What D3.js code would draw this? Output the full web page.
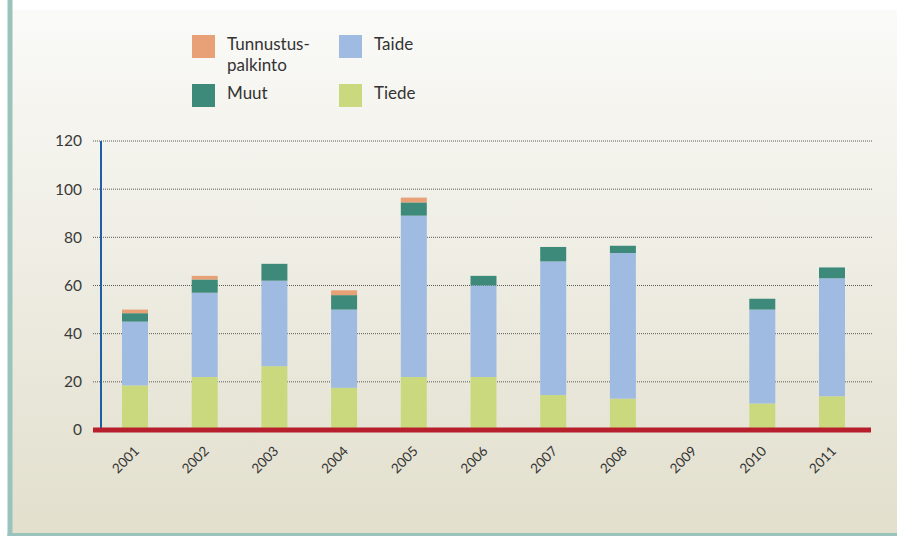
<!DOCTYPE html>
<html><head><meta charset="utf-8">
<script src="https://cdn.jsdelivr.net/npm/d3@7"></script>
<style>body{margin:0;background:#fff;}svg{display:block;}</style>
</head><body><svg id="c" width="897" height="536"></svg>
<script>
const years = ["2001","2002","2003","2004","2005","2006","2007","2008","2009","2010","2011"];
const tiede = [18.5, 22, 26.5, 17.5, 22, 22, 14.5, 13, 0, 11, 14];
const taide = [26.5, 35, 35.5, 32.5, 67, 38, 55.5, 60.5, 0, 39, 49];
const muut  = [3.5, 5.5, 7, 6, 5.5, 4, 6, 3, 0, 4.5, 4.5];
const tunnustus = [1.5, 1.5, 0, 2, 2, 0, 0, 0, 0, 0, 0];
const yTicks = [0, 20, 40, 60, 80, 100, 120];
const seriesNames = ["Tiede", "Taide", "Muut", "Tunnustus-palkinto"];
const colors = {"Tiede":"#cad97e","Taide":"#a0bbe2","Muut":"#3e8a7a","Tunnustus-palkinto":"#e8a077"};

const svg = d3.select("#c");
const defs = svg.append("defs");
const g = defs.append("linearGradient").attr("id","bg").attr("x1",0).attr("y1",0).attr("x2",0).attr("y2",1);
g.append("stop").attr("offset","0%").attr("stop-color","#fafaf8");
g.append("stop").attr("offset","100%").attr("stop-color","#e2dfcd");
svg.append("rect").attr("x",12).attr("y",10).attr("width",885).attr("height",524).attr("fill","url(#bg)");
svg.append("rect").attr("x",7.5).attr("y",0).attr("width",5).attr("height",536).attr("fill","#9ac4bb");
svg.append("rect").attr("x",7.5).attr("y",533).attr("width",890).attr("height",3).attr("fill","#9ac4bb");

const x = d3.scaleBand().domain(years).range([100.15, 866.85]).paddingInner(0.627).paddingOuter(0.3135);
const y = d3.scaleLinear().domain([0,120]).range([430, 141]);

// gridlines
svg.append("g").selectAll("line").data(yTicks.filter(d=>d>0)).join("line")
  .attr("x1",93).attr("x2",872).attr("y1",d=>y(d)).attr("y2",d=>y(d))
  .attr("stroke","#5a5a5a").attr("stroke-width",1).attr("stroke-dasharray","1 1");

// tick labels
svg.append("g").selectAll("text").data(yTicks).join("text")
  .attr("x",82).attr("y",d=>y(d)).attr("dy","0.35em").attr("text-anchor","end")
  .attr("font-family","Lato").attr("font-size",15.5).attr("fill","#3a3a3a").text(d=>d);

// stacked bars
const rows = years.map((yr,i)=>({year:yr,"Tiede":tiede[i],"Taide":taide[i],"Muut":muut[i],"Tunnustus-palkinto":tunnustus[i]}));
const stack = d3.stack().keys(seriesNames)(rows);
svg.append("g").selectAll("g").data(stack).join("g").attr("fill",d=>colors[d.key])
  .selectAll("rect").data(d=>d).join("rect")
  .attr("x",d=>x(d.data.year)).attr("width",x.bandwidth())
  .attr("y",d=>y(d[1])).attr("height",d=>y(d[0])-y(d[1]));

// axes lines
svg.append("line").attr("x1",101).attr("x2",101).attr("y1",y(120)).attr("y2",y(0))
  .attr("stroke","#1a5fa8").attr("stroke-width",2);
svg.append("line").attr("x1",93).attr("x2",871).attr("y1",y(0)).attr("y2",y(0))
  .attr("stroke","#b81f2d").attr("stroke-width",5);

// x labels
svg.append("g").selectAll("text").data(years).join("text")
  .attr("transform",d=>`translate(${x(d)+x.bandwidth()/2+5},${452}) rotate(-45)`)
  .attr("text-anchor","end").attr("font-family","Lato").attr("font-size",13.5).attr("fill","#333").text(d=>d);

// legend
const legend = [
  {name:"Tunnustus-palkinto", lines:["Tunnustus-","palkinto"], sx:192, sy:35},
  {name:"Taide", lines:["Taide"], sx:339, sy:35},
  {name:"Muut", lines:["Muut"], sx:192, sy:84},
  {name:"Tiede", lines:["Tiede"], sx:339, sy:84}
];
const lg = svg.append("g").selectAll("g").data(legend).join("g");
lg.append("rect").attr("x",d=>d.sx).attr("y",d=>d.sy).attr("width",23).attr("height",23).attr("fill",d=>colors[d.name]);
lg.each(function(d){
  const t = d3.select(this).append("text").attr("font-family","Lato").attr("font-size",17).attr("fill","#333");
  d.lines.forEach((l,i)=>t.append("tspan").attr("x",d.sx+35).attr("y",d.sy+15+i*20.5).text(l));
});
</script></body></html>
